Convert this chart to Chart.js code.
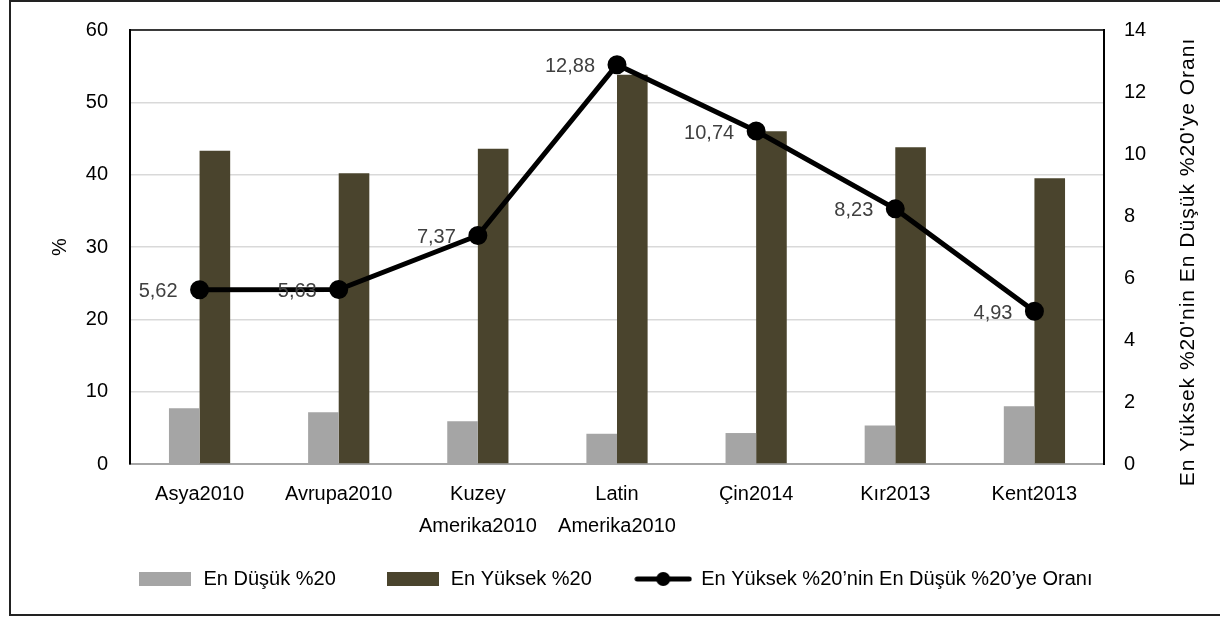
<!DOCTYPE html>
<html>
<head>
<meta charset="utf-8">
<script src="https://cdn.jsdelivr.net/npm/chart.js@4/dist/chart.umd.min.js"></script>
<style>
    html, body { margin: 0; padding: 0; background: #fff; }
    #wrap { width: 1220px; height: 617px; }
</style>
</head>
<body>
<div id="wrap"><canvas id="chart" width="1220" height="617"></canvas></div>
<script>
    const LABELS = ['Asya2010', 'Avrupa2010', ['Kuzey', 'Amerika2010'], ['Latin', 'Amerika2010'], 'Çin2014', 'Kır2013', 'Kent2013'];
    const EN_DUSUK = [7.7, 7.16, 5.92, 4.18, 4.28, 5.32, 8.0];
    const EN_YUKSEK = [43.3, 40.2, 43.6, 53.8, 46.0, 43.8, 39.5];
    const ORAN = [5.62, 5.63, 7.37, 12.88, 10.74, 8.23, 4.93];
    const ORAN_TEXT = ['5,62', '5,63', '7,37', '12,88', '10,74', '8,23', '4,93'];
    const RIGHT_TITLE = "En Yüksek %20'nin En Düşük %20'ye Oranı";

    const FONT = 'Liberation Sans, Arial, sans-serif';
    const GRAY = '#a5a5a5';
    const DARK = '#4a442d';
    const NBSP = '\u00a0';

    function swatch(w, h, fn) {
        const c = document.createElement('canvas');
        c.width = w; c.height = h;
        fn(c.getContext('2d'), w, h);
        return c;
    }
    const grayBox = swatch(52, 14, (g, w, h) => { g.fillStyle = GRAY; g.fillRect(0, 0, w, h); });
    const darkBox = swatch(52, 14, (g, w, h) => { g.fillStyle = DARK; g.fillRect(0, 0, w, h); });
    const lineMark = swatch(58, 16, (g, w, h) => {
        g.strokeStyle = '#000'; g.lineWidth = 5; g.lineCap = 'round';
        g.beginPath(); g.moveTo(3, h / 2); g.lineTo(w - 3, h / 2); g.stroke();
        g.fillStyle = '#000'; g.beginPath(); g.arc(w / 2, h / 2, 7, 0, Math.PI * 2); g.fill();
    });

    // outer frame, top edge of plot area, right axis title (reads bottom to top)
    const frame = {
        id: 'frame',
        afterDraw(chart) {
            const g = chart.ctx;
            const a = chart.chartArea;
            g.save();
            g.strokeStyle = '#000';
            g.lineWidth = 1.5;
            g.beginPath(); g.moveTo(a.left, a.top); g.lineTo(a.right, a.top); g.stroke();
            g.strokeStyle = '#222';
            g.lineWidth = 2;
            g.beginPath();
            g.moveTo(1220, 1); g.lineTo(10, 1); g.lineTo(10, 615); g.lineTo(1220, 615);
            g.stroke();

            g.translate(1188, 262);
            g.rotate(-Math.PI / 2);
            g.font = '21px ' + FONT;
            g.letterSpacing = '1px';
            g.fillStyle = '#000';
            g.textAlign = 'center';
            g.textBaseline = 'middle';
            g.fillText(RIGHT_TITLE, 0, 0);
            g.restore();
        }
    };

    // values left of the line points
    const pointLabels = {
        id: 'pointLabels',
        afterDatasetsDraw(chart) {
            const meta = chart.getDatasetMeta(2);
            const g = chart.ctx;
            g.save();
            g.font = '20px ' + FONT;
            g.fillStyle = '#404040';
            g.textAlign = 'right';
            g.textBaseline = 'middle';
            meta.data.forEach((pt, i) => {
                g.fillText(ORAN_TEXT[i], pt.x - 22, pt.y + 2);
            });
            g.restore();
        }
    };

    function noTickPad(scale) {
        scale.paddingTop = 0;
        scale.paddingBottom = 0;
    }

    new Chart(document.getElementById('chart'), {
        data: {
            labels: LABELS,
            datasets: [
                {
                    type: 'bar',
                    label: 'En Düşük %20',
                    data: EN_DUSUK,
                    backgroundColor: GRAY,
                    yAxisID: 'y',
                    order: 2
                },
                {
                    type: 'bar',
                    label: 'En Yüksek %20',
                    data: EN_YUKSEK,
                    backgroundColor: DARK,
                    yAxisID: 'y',
                    order: 2
                },
                {
                    type: 'line',
                    label: 'En Yüksek %20’nin En Düşük %20’ye Oranı',
                    data: ORAN,
                    borderColor: '#000',
                    backgroundColor: '#000',
                    borderWidth: 5,
                    pointRadius: 7,
                    pointHoverRadius: 7,
                    pointBackgroundColor: '#000',
                    tension: 0,
                    yAxisID: 'y2',
                    order: 1
                }
            ]
        },
        options: {
            responsive: false,
            animation: false,
            events: [],
            datasets: { bar: { categoryPercentage: 0.44, barPercentage: 1.0 } },
            layout: { padding: { left: 10, right: 0, top: 30, bottom: 18 } },
            plugins: {
                tooltip: { enabled: false },
                legend: {
                    position: 'bottom',
                    labels: {
                        color: '#000',
                        font: { family: FONT, size: 20 },
                        usePointStyle: true,
                        pointStyleWidth: 56,
                        boxHeight: 14,
                        padding: 10,
                        generateLabels(chart) {
                            const imgs = [grayBox, darkBox, lineMark];
                            // trailing gaps widen the spacing between legend entries
                            const gaps = [7, 6, 0];
                            return chart.data.datasets.map((ds, i) => ({
                                text: ds.label + NBSP.repeat(gaps[i]),
                                fillStyle: ds.backgroundColor,
                                strokeStyle: ds.backgroundColor,
                                lineWidth: 0,
                                pointStyle: imgs[i],
                                fontColor: '#000',
                                datasetIndex: i,
                                hidden: false
                            }));
                        }
                    }
                }
            },
            scales: {
                x: {
                    grid: { display: false, drawTicks: false },
                    border: { display: true, color: '#a6a6a6', width: 2 },
                    ticks: {
                        color: '#000',
                        font: { family: FONT, size: 20, lineHeight: 1.6 },
                        padding: 14,
                        maxRotation: 0,
                        autoSkip: false
                    },
                    afterFit(scale) { scale.height = 95; }
                },
                y: {
                    position: 'left',
                    min: 0,
                    max: 60,
                    ticks: {
                        stepSize: 10,
                        color: '#000',
                        font: { family: FONT, size: 20 },
                        padding: 22
                    },
                    grid: { color: '#d9d9d9', lineWidth: 1.5, drawTicks: false },
                    border: { display: true, color: '#000', width: 2 },
                    title: {
                        display: true,
                        text: '%',
                        color: '#000',
                        font: { family: FONT, size: 20 },
                        padding: { top: 38, bottom: 0 }
                    },
                    afterFit(scale) { scale.width = 120; noTickPad(scale); }
                },
                y2: {
                    position: 'right',
                    min: 0,
                    max: 14,
                    ticks: {
                        stepSize: 2,
                        color: '#000',
                        font: { family: FONT, size: 20 },
                        padding: 20
                    },
                    grid: { display: false, drawTicks: false },
                    border: { display: true, color: '#000', width: 2 },
                    afterFit(scale) { scale.width = 116; noTickPad(scale); }
                }
            }
        },
        plugins: [frame, pointLabels]
    });
</script>
</body>
</html>
